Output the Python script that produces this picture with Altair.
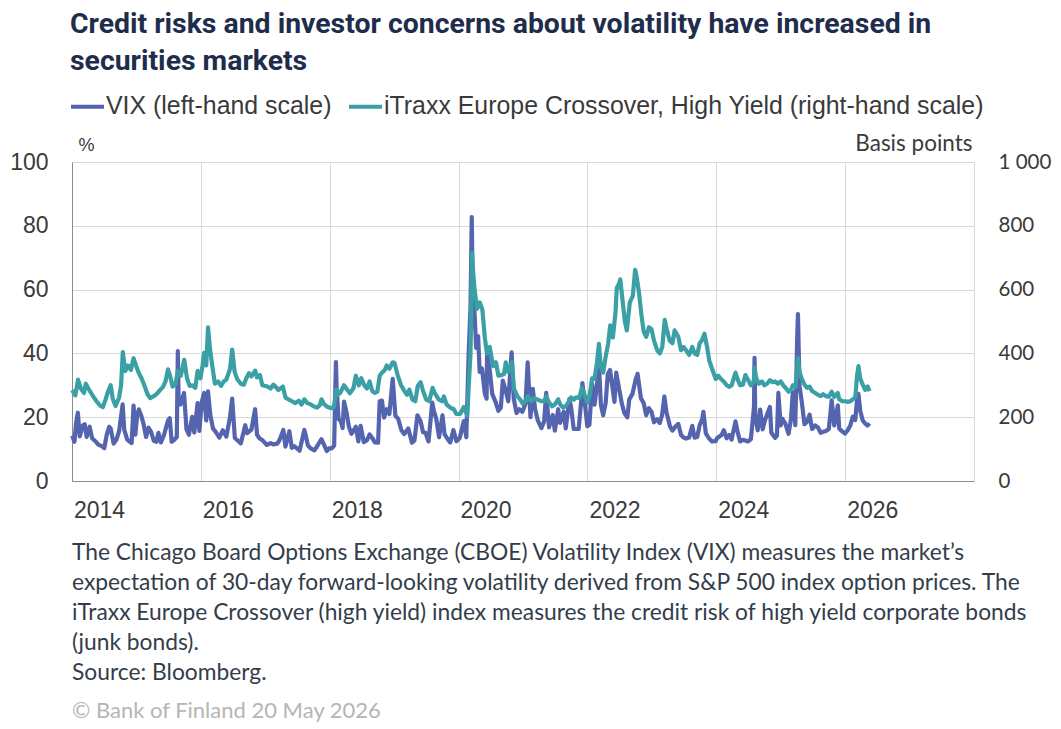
import altair as alt
import pandas as pd

VIX_NAME = "VIX (left-hand scale)"
ITX_NAME = "iTraxx Europe Crossover, High Yield (right-hand scale)"

vix_dates = [
    "2014-01-02","2014-01-15","2014-01-24","2014-02-03","2014-02-14","2014-03-03","2014-03-14","2014-03-25","2014-04-11","2014-04-25",
    "2014-05-15","2014-05-30","2014-06-16","2014-07-03","2014-07-17","2014-07-31","2014-08-08","2014-08-25","2014-09-10","2014-09-25",
    "2014-10-15","2014-10-24","2014-11-10","2014-11-25","2014-12-05","2014-12-16","2014-12-26",
    "2015-01-06","2015-01-15","2015-01-29","2015-02-10","2015-02-25","2015-03-11","2015-03-25","2015-04-10","2015-04-24","2015-05-06",
    "2015-05-20","2015-06-05","2015-06-29","2015-07-09","2015-07-20","2015-08-05","2015-08-18","2015-08-24","2015-08-28","2015-09-08",
    "2015-09-28","2015-10-12","2015-10-26","2015-11-13","2015-11-25","2015-12-14","2015-12-24",
    "2016-01-07","2016-01-20","2016-02-01","2016-02-11","2016-02-24","2016-03-10","2016-03-28","2016-04-15","2016-05-05","2016-05-25",
    "2016-06-15","2016-06-27","2016-07-12","2016-07-28","2016-08-15","2016-09-09","2016-09-20","2016-10-14","2016-11-04","2016-11-15",
    "2016-11-30","2016-12-15",
    "2017-01-10","2017-01-31","2017-02-15","2017-03-10","2017-03-22","2017-04-13","2017-04-25","2017-05-17","2017-05-31","2017-06-15",
    "2017-07-14","2017-08-10","2017-08-18","2017-08-30","2017-09-15","2017-10-06","2017-10-25","2017-11-15","2017-11-30","2017-12-15",
    "2017-12-28",
    "2018-01-12","2018-01-26","2018-02-05","2018-02-09","2018-02-20","2018-03-05","2018-03-15","2018-03-23","2018-04-06","2018-04-20",
    "2018-05-04","2018-05-29","2018-06-12","2018-06-25","2018-07-13","2018-07-31","2018-08-15","2018-08-30","2018-09-14","2018-10-02",
    "2018-10-11","2018-10-24","2018-11-05","2018-11-20","2018-12-05","2018-12-24",
    "2019-01-08","2019-01-24","2019-02-11","2019-02-27","2019-03-22","2019-04-12","2019-04-26","2019-05-13","2019-05-31","2019-06-14",
    "2019-06-28","2019-07-15","2019-08-05","2019-08-14","2019-08-28","2019-09-13","2019-10-02","2019-10-14","2019-10-31","2019-11-15",
    "2019-12-03","2019-12-20",
    "2020-01-08","2020-01-31","2020-02-14","2020-02-27","2020-03-09","2020-03-16","2020-03-20","2020-03-31","2020-04-10","2020-04-21",
    "2020-04-30","2020-05-13","2020-05-29","2020-06-08","2020-06-11","2020-06-26","2020-07-10","2020-07-31","2020-08-14","2020-08-28",
    "2020-09-08","2020-09-23","2020-10-09","2020-10-28","2020-11-09","2020-11-25","2020-12-10","2020-12-28",
    "2021-01-15","2021-01-27","2021-02-12","2021-02-25","2021-03-10","2021-03-26","2021-04-15","2021-04-30","2021-05-12","2021-05-28",
    "2021-06-18","2021-06-30","2021-07-19","2021-07-30","2021-08-19","2021-08-31","2021-09-20","2021-09-30","2021-10-15","2021-10-29",
    "2021-11-12","2021-11-30","2021-12-03","2021-12-20","2021-12-31",
    "2022-01-12","2022-01-27","2022-02-10","2022-02-24","2022-03-07","2022-03-18","2022-03-31","2022-04-14","2022-04-26","2022-05-09",
    "2022-05-25","2022-06-03","2022-06-13","2022-06-30","2022-07-15","2022-07-29","2022-08-15","2022-08-26","2022-09-13","2022-09-30",
    "2022-10-12","2022-10-31","2022-11-15","2022-11-30","2022-12-15","2022-12-30",
    "2023-01-13","2023-01-31","2023-02-15","2023-02-28","2023-03-13","2023-03-24","2023-04-14","2023-04-28","2023-05-15","2023-05-31",
    "2023-06-15","2023-06-30","2023-07-14","2023-07-31","2023-08-18","2023-08-31","2023-09-15","2023-09-29","2023-10-13","2023-10-20",
    "2023-11-03","2023-11-20","2023-12-08","2023-12-29",
    "2024-01-05","2024-01-31","2024-02-13","2024-02-29","2024-03-15","2024-03-28","2024-04-19","2024-04-30","2024-05-15","2024-05-31",
    "2024-06-14","2024-06-28","2024-07-15","2024-07-24","2024-08-02","2024-08-05","2024-08-09","2024-08-23","2024-09-06","2024-09-20",
    "2024-10-04","2024-10-31","2024-11-08","2024-11-29","2024-12-10","2024-12-18","2024-12-31",
    "2025-01-10","2025-01-27","2025-02-14","2025-02-28","2025-03-10","2025-03-24","2025-04-04","2025-04-08","2025-04-17","2025-04-30",
    "2025-05-15","2025-05-30","2025-06-13","2025-06-27","2025-07-15","2025-07-31","2025-08-15","2025-08-29","2025-09-15","2025-09-30",
    "2025-10-10","2025-10-16","2025-10-31","2025-11-20","2025-11-28","2025-12-12","2025-12-31",
    "2026-01-15","2026-01-30","2026-02-13","2026-02-27","2026-03-09","2026-03-17","2026-03-27","2026-04-10","2026-04-24","2026-05-08",
    "2026-05-19",
]
vix_values = [
    14.2,12.3,18.1,21.4,14.0,17.4,17.8,13.8,17.0,13.4,
    12.4,11.4,11.0,10.3,14.5,17.0,16.5,11.7,13.0,15.6,
    24.0,16.1,13.0,12.3,11.9,23.6,14.5,
    21.1,22.4,20.4,18.0,13.8,16.7,15.4,12.6,12.3,15.1,
    12.1,14.2,18.9,19.7,12.3,13.0,13.8,40.7,26.0,24.0,
    27.6,16.2,14.5,20.1,15.2,24.4,15.7,
    24.9,27.6,19.0,28.1,20.7,16.5,15.2,13.6,15.9,13.9,
    20.1,25.8,13.5,12.7,11.8,17.5,15.0,16.1,22.5,14.5,
    13.3,12.8,
    11.3,11.9,11.5,11.7,12.8,16.0,10.8,15.6,10.4,10.9,
    9.5,16.0,14.3,11.2,10.2,9.6,11.2,13.1,11.3,9.4,
    10.2,
    10.2,11.1,37.3,29.1,19.5,18.7,16.6,24.9,21.5,16.9,
    14.8,17.0,12.4,17.3,12.2,12.8,14.6,13.5,12.1,12.0,
    25.0,25.2,19.9,22.5,21.0,32.0,
    20.5,19.5,15.9,14.7,16.5,12.0,12.7,20.6,18.7,15.3,
    15.1,12.4,24.6,22.1,19.4,13.7,20.6,14.6,13.2,12.1,
    16.0,12.5,
    13.5,18.8,13.7,39.2,54.5,82.7,66.0,53.5,41.7,45.4,
    34.2,35.3,27.5,25.8,40.8,34.7,27.3,24.5,22.0,23.0,
    31.5,28.6,25.0,40.3,25.8,21.3,22.5,21.7,
    24.3,37.2,20.0,28.9,22.6,18.9,16.6,18.6,27.6,16.8,
    20.7,15.8,22.5,18.2,21.7,16.5,25.7,23.1,16.3,16.3,
    16.3,27.2,30.7,22.9,17.2,
    17.6,30.5,23.9,30.3,36.5,23.9,20.6,24.4,33.5,34.8,
    28.4,24.8,34.0,28.7,24.2,21.3,20.0,25.6,27.3,31.6,
    33.6,25.9,24.5,20.6,22.8,21.7,
    18.4,19.4,18.2,20.7,26.5,21.7,17.1,15.8,17.1,17.9,
    14.5,13.6,13.3,13.6,17.3,13.6,13.8,17.5,19.3,21.7,
    14.9,13.4,12.4,12.5,
    13.4,14.4,15.9,13.4,14.4,13.0,18.7,15.7,12.4,12.9,
    12.7,12.4,13.1,18.0,23.4,38.6,20.4,15.9,22.4,16.2,
    19.2,23.2,15.2,13.5,14.2,27.6,17.4,
    19.5,17.9,14.8,19.6,27.9,17.5,45.3,52.3,29.7,24.7,
    17.8,18.6,20.8,16.3,17.4,16.7,15.1,15.4,15.7,16.3,
    21.7,25.3,17.4,23.7,16.4,15.7,14.9,
    15.9,17.4,20.2,19.1,25.5,27.3,22.0,19.0,18.0,17.4,
    18.1,
]

itraxx_dates = [
    "2014-01-02","2014-01-20","2014-02-04","2014-02-20","2014-03-10","2014-03-20","2014-04-10","2014-04-30","2014-05-20","2014-06-10",
    "2014-06-25","2014-07-10","2014-07-25","2014-08-08","2014-08-20","2014-09-05","2014-09-25","2014-10-06","2014-10-16","2014-10-30",
    "2014-11-15","2014-12-01","2014-12-16","2014-12-31",
    "2015-01-15","2015-01-30","2015-02-15","2015-03-05","2015-03-20","2015-04-10","2015-04-25","2015-05-15","2015-06-01","2015-06-15",
    "2015-06-29","2015-07-10","2015-07-25","2015-08-10","2015-08-24","2015-09-10","2015-09-29","2015-10-15","2015-10-30","2015-11-15",
    "2015-12-01","2015-12-14","2015-12-30",
    "2016-01-11","2016-01-20","2016-02-01","2016-02-11","2016-02-22","2016-03-07","2016-03-21","2016-04-08","2016-04-25","2016-05-10",
    "2016-05-25","2016-06-15","2016-06-27","2016-07-11","2016-07-25","2016-08-15","2016-09-01","2016-09-15","2016-09-30","2016-10-14",
    "2016-11-04","2016-11-15","2016-12-01","2016-12-15",
    "2017-01-13","2017-01-31","2017-02-15","2017-03-01","2017-03-15","2017-04-10","2017-04-25","2017-05-15","2017-06-01","2017-06-20",
    "2017-07-10","2017-07-25","2017-08-10","2017-08-25","2017-09-15","2017-10-02","2017-10-20","2017-11-06","2017-11-15","2017-12-01",
    "2017-12-20",
    "2018-01-10","2018-01-25","2018-02-06","2018-02-15","2018-03-01","2018-03-23","2018-04-10","2018-04-25","2018-05-15","2018-05-29",
    "2018-06-15","2018-06-29","2018-07-16","2018-07-31","2018-08-15","2018-08-30","2018-09-14","2018-09-28","2018-10-11","2018-10-25",
    "2018-11-09","2018-11-20","2018-12-05","2018-12-24",
    "2019-01-03","2019-01-21","2019-02-08","2019-02-25","2019-03-15","2019-03-28","2019-04-15","2019-05-01","2019-05-15","2019-05-31",
    "2019-06-14","2019-07-01","2019-07-19","2019-08-07","2019-08-20","2019-09-10","2019-09-30","2019-10-10","2019-10-25","2019-11-15",
    "2019-12-05","2019-12-20",
    "2020-01-10","2020-01-31","2020-02-20","2020-02-28","2020-03-09","2020-03-18","2020-03-23","2020-04-01","2020-04-15","2020-04-30",
    "2020-05-15","2020-05-29","2020-06-10","2020-06-26","2020-07-15","2020-07-31","2020-08-14","2020-08-31","2020-09-15","2020-09-25",
    "2020-10-09","2020-10-30","2020-11-10","2020-11-30","2020-12-15","2020-12-31",
    "2021-01-15","2021-01-29","2021-02-15","2021-03-05","2021-03-25","2021-04-15","2021-04-30","2021-05-12","2021-05-28","2021-06-15",
    "2021-06-30","2021-07-19","2021-07-30","2021-08-16","2021-08-31","2021-09-20","2021-09-30","2021-10-15","2021-10-29","2021-11-15",
    "2021-11-30","2021-12-10","2021-12-31",
    "2022-01-14","2022-01-27","2022-02-10","2022-02-24","2022-03-07","2022-03-18","2022-03-31","2022-04-14","2022-04-28","2022-05-10",
    "2022-05-25","2022-06-09","2022-06-16","2022-06-30","2022-07-06","2022-07-20","2022-08-01","2022-08-12","2022-08-29","2022-09-15",
    "2022-09-28","2022-10-07","2022-10-20","2022-11-03","2022-11-15","2022-11-30","2022-12-15","2022-12-30",
    "2023-01-13","2023-01-31","2023-02-15","2023-03-01","2023-03-15","2023-03-24","2023-04-12","2023-04-28","2023-05-10","2023-05-31",
    "2023-06-15","2023-06-30","2023-07-14","2023-07-31","2023-08-18","2023-08-31","2023-09-15","2023-09-29","2023-10-13","2023-10-26",
    "2023-11-10","2023-11-22","2023-12-08","2023-12-29",
    "2024-01-12","2024-01-31","2024-02-15","2024-02-29","2024-03-15","2024-03-28","2024-04-19","2024-04-30","2024-05-15","2024-05-31",
    "2024-06-14","2024-06-28","2024-07-15","2024-07-31","2024-08-05","2024-08-15","2024-08-30","2024-09-16","2024-09-30","2024-10-15",
    "2024-10-31","2024-11-15","2024-11-29","2024-12-16","2024-12-31",
    "2025-01-15","2025-01-31","2025-02-14","2025-02-28","2025-03-10","2025-03-24","2025-04-04","2025-04-08","2025-04-17","2025-04-30",
    "2025-05-15","2025-05-30","2025-06-13","2025-06-27","2025-07-15","2025-07-31","2025-08-15","2025-08-29","2025-09-15","2025-09-30",
    "2025-10-16","2025-10-31","2025-11-20","2025-11-28","2025-12-15","2025-12-31",
    "2026-01-15","2026-01-30","2026-02-13","2026-02-27","2026-03-09","2026-03-17","2026-03-27","2026-04-10","2026-04-24","2026-05-08",
    "2026-05-19",
]
itraxx_values = [
    285,268,318,290,276,305,284,266,250,236,
    232,255,282,300,258,235,262,300,404,345,
    362,348,385,360,
    338,322,300,272,260,266,272,285,295,312,
    350,332,296,302,345,330,380,322,298,300,
    292,345,322,
    362,402,362,482,415,358,305,312,298,312,
    318,352,412,342,320,305,302,322,338,328,
    346,325,332,300,
    296,290,302,295,285,296,262,255,250,244,
    252,240,256,245,240,234,230,238,256,240,
    232,
    228,233,286,270,276,300,286,275,290,330,
    300,322,300,290,312,282,276,280,330,340,
    348,362,352,372,
    370,332,302,285,270,286,255,250,298,310,
    282,256,250,292,275,256,250,265,240,230,
    225,210,
    210,232,205,300,400,715,662,600,540,560,
    538,450,400,420,360,372,330,332,336,372,
    342,372,290,265,256,242,
    250,266,250,260,255,250,250,265,246,234,
    240,256,240,230,235,250,262,255,262,260,
    292,280,245,
    270,322,320,372,430,355,340,390,430,488,
    450,530,605,620,632,560,500,472,560,580,
    662,640,590,520,470,452,482,476,
    440,410,400,420,505,480,440,432,472,452,
    410,420,410,395,420,400,395,432,442,462,
    420,378,352,320,
    330,318,310,300,295,300,340,320,300,302,
    332,318,300,310,355,322,305,312,300,305,
    316,310,312,305,312,
    300,290,280,286,300,295,345,385,342,320,
    302,292,296,282,276,270,266,272,266,264,
    280,264,276,256,250,250,
    248,250,256,262,330,360,322,302,286,296,
    282,
]

title_lines = [
    "Credit risks and investor concerns about volatility have increased in",
    "securities markets",
]
note_lines = [
    "The Chicago Board Options Exchange (CBOE) Volatility Index (VIX) measures the market\u2019s",
    "expectation of 30-day forward-looking volatility derived from S&P 500 index option prices. The",
    "iTraxx Europe Crossover (high yield) index measures the credit risk of high yield corporate bonds",
    "(junk bonds).",
    "Source: Bloomberg.",
]
copyright_text = "\u00a9 Bank of Finland 20 May 2026"

left_ticks = [0, 20, 40, 60, 80, 100]
right_ticks = [0, 200, 400, 600, 800, 1000]
year_ticks = [2014, 2016, 2018, 2020, 2022, 2024, 2026]

df = pd.concat([
    pd.DataFrame({"date": vix_dates, "value": vix_values, "series": VIX_NAME}),
    pd.DataFrame({"date": itraxx_dates, "value": itraxx_values, "series": ITX_NAME}),
])

W, H = 902, 319
AX_FONT = "Liberation Sans, Arial, sans-serif"
CAL_FONT = "Lato, Open Sans, sans-serif"
TXT = "#3a3a3a"
GRID = "#d9d9d9"
AXIS = "#8c8c8c"

color_scale = alt.Scale(domain=[VIX_NAME, ITX_NAME], range=["#5464af", "#3aa0a6"])

x_enc = alt.X(
    "date:T",
    scale=alt.Scale(domain=[alt.DateTime(year=2014, month=1, date=1), alt.DateTime(year=2028, month=1, date=1)]),
    axis=alt.Axis(
        values=[alt.DateTime(year=y, month=1, date=1) for y in year_ticks],
        format="%Y", title=None, grid=True, gridColor=GRID, gridWidth=1,
        domainColor=AXIS, domainWidth=1, ticks=False, tickSize=0,
        labelOffset=27, labelPadding=18, labelFlush=False, labelOverlap=False,
        labelFont=AX_FONT, labelFontSize=23, labelColor=TXT,
    ),
)

legend = alt.Legend(
    orient="none", legendX=-3, legendY=-74, direction="horizontal", title=None,
    symbolType="stroke", symbolSize=1089, symbolStrokeWidth=4,
    labelFont=AX_FONT, labelFontSize=24.9, labelColor=TXT, labelOffset=0,
    labelLimit=1000, columnPadding=9, padding=0,
)

base = alt.Chart(df)

vix_line = base.transform_filter(alt.datum.series == VIX_NAME).mark_line(strokeWidth=4.2, strokeJoin="round").encode(
    x=x_enc,
    y=alt.Y("value:Q", scale=alt.Scale(domain=[0, 100]), axis=alt.Axis(
        orient="left", values=left_ticks, grid=True, gridColor=GRID, gridWidth=1,
        domainColor=AXIS, domainWidth=1, ticks=False, tickSize=0, labelPadding=24,
        labelFont=AX_FONT, labelFontSize=23, labelColor=TXT,
        title="%", titleAngle=0, titleAlign="left", titleBaseline="alphabetic",
        titleX=6, titleY=-12, titleFont=AX_FONT, titleFontSize=18, titleFontWeight="normal", titleColor=TXT,
    )),
    color=alt.Color("series:N", scale=color_scale, legend=legend),
)

itx_line = base.transform_filter(alt.datum.series == ITX_NAME).mark_line(strokeWidth=4.2, strokeJoin="round").encode(
    x=x_enc,
    y=alt.Y("value:Q", scale=alt.Scale(domain=[0, 1000]), axis=alt.Axis(
        orient="right", values=right_ticks, grid=False,
        domainColor=GRID, domainWidth=1, ticks=False, tickSize=0, labelPadding=24,
        labelExpr="replace(format(datum.value, ','), ',', ' ')",
        labelFont=CAL_FONT, labelFontSize=20.5, labelColor=TXT,
        title="Basis points", titleAngle=0, titleAlign="right", titleBaseline="alphabetic",
        titleX=-2, titleY=-12, titleFont=CAL_FONT, titleFontSize=22.5, titleFontWeight="normal", titleColor=TXT,
    )),
    color=alt.Color("series:N", scale=color_scale, legend=legend),
)

title_text = alt.Chart(pd.DataFrame({"t": ["\n".join(title_lines)]})).mark_text(
    align="left", baseline="alphabetic", lineBreak="\n", lineHeight=37,
    font="Liberation Sans Narrow, Roboto, sans-serif", fontSize=28.4, fontWeight="bold", color="#1f2d4d",
).encode(x=alt.value(-2), y=alt.value(-129), text="t:N")

note_text = alt.Chart(pd.DataFrame({"t": ["\n".join(note_lines)]})).mark_text(
    align="left", baseline="alphabetic", lineBreak="\n", lineHeight=30,
    font=CAL_FONT, fontSize=22.8, color="#333d4a",
).encode(x=alt.value(0), y=alt.value(398), text="t:N")

copy_text = alt.Chart(pd.DataFrame({"t": [copyright_text]})).mark_text(
    align="left", baseline="alphabetic",
    font=CAL_FONT, fontSize=22, color="#b5b5b5",
).encode(x=alt.value(0), y=alt.value(556), text="t:N")

chart = alt.layer(vix_line, itx_line, title_text, note_text, copy_text).resolve_scale(
    y="independent"
).properties(
    width=W, height=H,
    autosize=alt.AutoSizeParams(type="none"),
    padding={"left": 64, "top": 154, "right": 79, "bottom": 244},
).configure_view(stroke=None)

chart.save("out.html", embed_options={"renderer": "svg", "actions": False})
